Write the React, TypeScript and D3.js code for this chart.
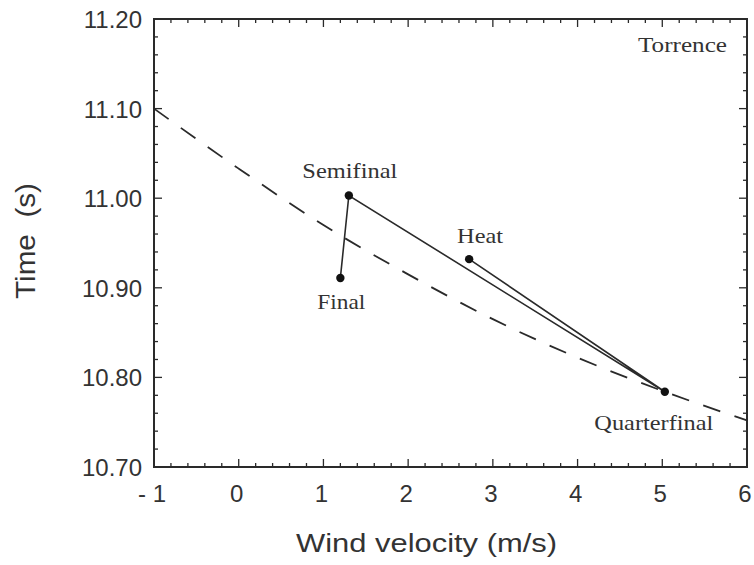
import React from "react";
import * as d3 from "d3";

const roundNames = ["Heat", "Quarterfinal", "Semifinal", "Final"];
const roundWind = [2.72, 5.03, 1.3, 1.2];
const roundTime = [10.932, 10.784, 11.003, 10.911];

const curveWind = [-1, 0, 1, 2, 3, 4, 5, 6];
const curveTime = [11.1, 11.033, 10.97, 10.915, 10.865, 10.822, 10.785, 10.752];

const xTickValues = [-1, 0, 1, 2, 3, 4, 5, 6];
const xTickLabels = ["- 1", "0", "1", "2", "3", "4", "5", "6"];
const yTickValues = [10.7, 10.8, 10.9, 11.0, 11.1, 11.2];
const yTickLabels = ["10.70", "10.80", "10.90", "11.00", "11.10", "11.20"];

const W = 754, H = 565;
const L = 154, R = 747, T = 19, B = 467;

// label placement: [center x offset, baseline y offset, text width]
const labelPos: Record<string, [number, number, number]> = {
  Heat: [11, -16, 46],
  Quarterfinal: [-11, 38, 119],
  Semifinal: [1, -18, 95],
  Final: [1, 31, 48],
};

export default function App() {
  const x = d3.scaleLinear().domain([-1, 6]).range([L, R]);
  const y = d3.scaleLinear().domain([10.7, 11.2]).range([B, T]);

  const curve = d3
    .line<number>()
    .x((d, i) => x(curveWind[i]))
    .y((d) => y(d))
    .curve(d3.curveMonotoneX)(curveTime) as string;

  const path = d3
    .line<number>()
    .x((d, i) => x(roundWind[i]))
    .y((d) => y(d))(roundTime) as string;

  const xMinor = d3.range(-1, 6.0001, 0.2);
  const yMinor = d3.range(10.7, 11.2001, 0.02);

  const serif = "'Liberation Serif', 'DejaVu Serif', serif";
  const sans = "'Liberation Sans', Arial, sans-serif";
  const ink = "#2a2a2a";

  return (
    <svg width={W} height={H} style={{ position: "absolute", left: 0, top: 0, background: "#fff" }}>
      <rect x={0} y={0} width={W} height={H} fill="#fff" />
      {xMinor.map((v, i) => {
        const major = Math.abs(v - Math.round(v)) < 1e-6;
        const len = major ? 8 : 4;
        return (
          <g key={"xm" + i} stroke={ink} strokeWidth={1.3}>
            <line x1={x(v)} x2={x(v)} y1={B} y2={B - len} />
            <line x1={x(v)} x2={x(v)} y1={T} y2={T + len} />
          </g>
        );
      })}
      {yMinor.map((v, i) => {
        const major = Math.abs(v * 10 - Math.round(v * 10)) < 1e-6;
        const len = major ? 8 : 4;
        return (
          <g key={"ym" + i} stroke={ink} strokeWidth={1.3}>
            <line x1={L} x2={L + len} y1={y(v)} y2={y(v)} />
            <line x1={R} x2={R - len} y1={y(v)} y2={y(v)} />
          </g>
        );
      })}
      <rect x={L} y={T} width={R - L} height={B - T} fill="none" stroke={ink} strokeWidth={2} />
      {xTickValues.map((v, i) => (
        <text key={"xl" + i} x={x(v) + (v === -1 ? -2 : -2)} y={B + 35} textAnchor="middle" fontFamily={sans} fontSize={24} fill="#333">
          {xTickLabels[i]}
        </text>
      ))}
      {yTickValues.map((v, i) => (
        <text key={"yl" + i} x={L - 12} y={y(v) + 9} textAnchor="end" fontFamily={sans} fontSize={24} fill="#333">
          {yTickLabels[i]}
        </text>
      ))}
      <text
        x={296}
        y={552}
        fontFamily={sans}
        fontSize={25}
        fill="#333"
        textLength={261}
        lengthAdjust="spacingAndGlyphs"
      >
        Wind velocity (m/s)
      </text>
      <text
        transform={`translate(35,${299}) rotate(-90)`}
        fontFamily={sans}
        fontSize={27}
        fill="#333"
        textLength={116}
        lengthAdjust="spacingAndGlyphs"
        xmlSpace="preserve"
      >
        Time  (s)
      </text>
      <path d={curve} fill="none" stroke={ink} strokeWidth={1.8} strokeDasharray="18,15" />
      <path d={path} fill="none" stroke={ink} strokeWidth={1.6} />
      {roundWind.map((w, i) => (
        <circle key={"c" + i} cx={x(w)} cy={y(roundTime[i])} r={4.2} fill="#111" />
      ))}
      {roundNames.map((n, i) => {
        const [dx, dy, w] = labelPos[n];
        const cx = x(roundWind[i]) + dx;
        return (
          <text
            key={"t" + i}
            x={cx - w / 2}
            y={y(roundTime[i]) + dy}
            fontFamily={serif}
            fontSize={21}
            fill="#333"
            textLength={w}
            lengthAdjust="spacingAndGlyphs"
          >
            {n}
          </text>
        );
      })}
      <text x={638} y={52} fontFamily={serif} fontSize={20} fill="#333" textLength={89} lengthAdjust="spacingAndGlyphs">
        Torrence
      </text>
    </svg>
  );
}
